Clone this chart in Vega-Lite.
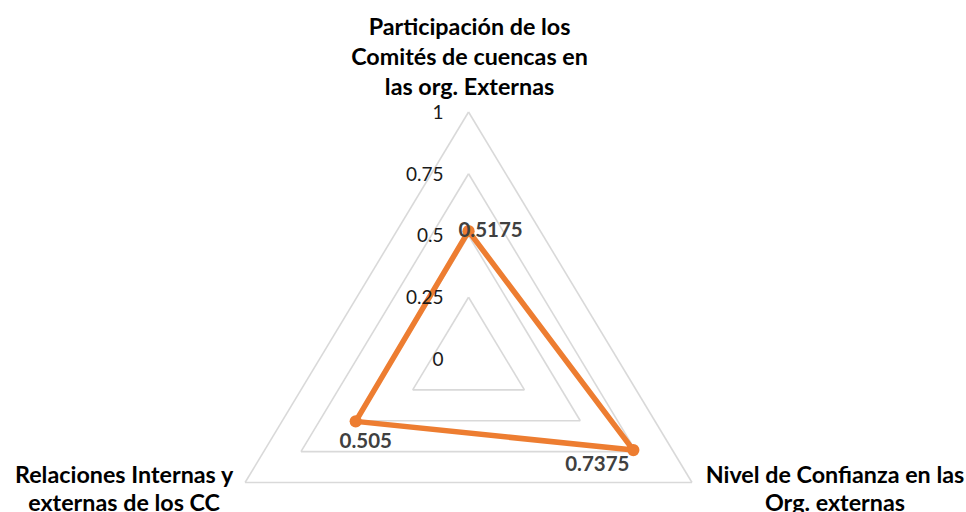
{
  "$schema": "https://vega.github.io/schema/vega-lite/v6.json",
  "width": 966,
  "height": 512,
  "autosize": "none",
  "padding": 0,
  "background": "white",
  "config": {"view": {"stroke": null}},
  "datasets": {
    "series": [
      {"axis": "Participación de los|Comités de cuencas en|las org. Externas", "idx": 0, "value": 0.5175},
      {"axis": "Nivel de Confianza en las|Org. externas", "idx": 1, "value": 0.7375},
      {"axis": "Relaciones Internas y|externas de los CC", "idx": 2, "value": 0.505}
    ],
    "rings": [
      {"level": 0.25, "idx": 0}, {"level": 0.25, "idx": 1}, {"level": 0.25, "idx": 2},
      {"level": 0.5, "idx": 0}, {"level": 0.5, "idx": 1}, {"level": 0.5, "idx": 2},
      {"level": 0.75, "idx": 0}, {"level": 0.75, "idx": 1}, {"level": 0.75, "idx": 2},
      {"level": 1, "idx": 0}, {"level": 1, "idx": 1}, {"level": 1, "idx": 2}
    ],
    "ticks": [
      {"level": 0, "label": "0"},
      {"level": 0.25, "label": "0.25"},
      {"level": 0.5, "label": "0.5"},
      {"level": 0.75, "label": "0.75"},
      {"level": 1, "label": "1"}
    ]
  },
  "encoding": {
    "x": {"field": "x", "type": "quantitative", "axis": null, "scale": {"domain": [-1.816, 1.928], "nice": false, "zero": false}},
    "y": {"field": "y", "type": "quantitative", "axis": null, "scale": {"domain": [-0.6194, 1.4534], "nice": false, "zero": false}}
  },
  "layer": [
    {
      "data": {"name": "rings"},
      "transform": [
        {"calculate": "datum.level*sin(datum.idx*2*PI/3)", "as": "x"},
        {"calculate": "datum.level*cos(datum.idx*2*PI/3)", "as": "y"},
        {"calculate": "datum.level*sin((datum.idx+1)*2*PI/3)", "as": "x2"},
        {"calculate": "datum.level*cos((datum.idx+1)*2*PI/3)", "as": "y2"}
      ],
      "mark": {"type": "rule", "color": "#D9D9D9", "strokeWidth": 1.6},
      "encoding": {"x2": {"field": "x2"}, "y2": {"field": "y2"}}
    },
    {
      "data": {"name": "series"},
      "transform": [
        {"calculate": "datum.value*sin(datum.idx*2*PI/3)", "as": "x"},
        {"calculate": "datum.value*cos(datum.idx*2*PI/3)", "as": "y"}
      ],
      "mark": {"type": "line", "color": "#ED7D31", "strokeWidth": 5.5, "interpolate": "linear-closed", "strokeJoin": "round"},
      "encoding": {"order": {"field": "idx", "type": "quantitative"}}
    },
    {
      "data": {"name": "ticks"},
      "transform": [
        {"calculate": "0", "as": "x"},
        {"calculate": "datum.level", "as": "y"}
      ],
      "mark": {"type": "text", "align": "right", "baseline": "middle", "dx": -25, "dy": 1, "font": "Lato", "fontSize": 19, "color": "#1a1a1a"},
      "encoding": {"text": {"field": "label", "type": "nominal"}}
    },
    {
      "data": {"name": "series"},
      "transform": [
        {"calculate": "datum.value*sin(datum.idx*2*PI/3)", "as": "x"},
        {"calculate": "datum.value*cos(datum.idx*2*PI/3)", "as": "y"}
      ],
      "mark": {"type": "point", "shape": "circle", "filled": true, "size": 150, "color": "#ED7D31", "opacity": 1}
    },
    {
      "data": {"name": "series"},
      "transform": [
        {"filter": "datum.idx == 0"},
        {"calculate": "datum.value*sin(datum.idx*2*PI/3)", "as": "x"},
        {"calculate": "datum.value*cos(datum.idx*2*PI/3)", "as": "y"},
        {"calculate": "format(datum.value, '')", "as": "vtxt"}
      ],
      "mark": {"type": "text", "align": "center", "baseline": "middle", "dx": 22, "dy": 0, "font": "Lato", "fontWeight": 700, "fontSize": 20.5, "color": "#404040"},
      "encoding": {"text": {"field": "vtxt", "type": "nominal"}}
    },
    {
      "data": {"name": "series"},
      "transform": [
        {"filter": "datum.idx == 1"},
        {"calculate": "datum.value*sin(datum.idx*2*PI/3)", "as": "x"},
        {"calculate": "datum.value*cos(datum.idx*2*PI/3)", "as": "y"},
        {"calculate": "format(datum.value, '')", "as": "vtxt"}
      ],
      "mark": {"type": "text", "align": "center", "baseline": "middle", "dx": -36, "dy": 15, "font": "Lato", "fontWeight": 700, "fontSize": 20.5, "color": "#404040"},
      "encoding": {"text": {"field": "vtxt", "type": "nominal"}}
    },
    {
      "data": {"name": "series"},
      "transform": [
        {"filter": "datum.idx == 2"},
        {"calculate": "datum.value*sin(datum.idx*2*PI/3)", "as": "x"},
        {"calculate": "datum.value*cos(datum.idx*2*PI/3)", "as": "y"},
        {"calculate": "format(datum.value, '')", "as": "vtxt"}
      ],
      "mark": {"type": "text", "align": "center", "baseline": "middle", "dx": 10, "dy": 21, "font": "Lato", "fontWeight": 700, "fontSize": 20.5, "color": "#404040"},
      "encoding": {"text": {"field": "vtxt", "type": "nominal"}}
    },
    {
      "data": {"name": "series"},
      "transform": [
        {"filter": "datum.idx == 0"},
        {"calculate": "sin(datum.idx*2*PI/3)", "as": "x"},
        {"calculate": "cos(datum.idx*2*PI/3)", "as": "y"},
        {"calculate": "split(datum.axis, '|')", "as": "lines"}
      ],
      "mark": {"type": "text", "align": "center", "baseline": "alphabetic", "dx": 1, "dy": -77, "lineHeight": 30, "font": "Lato", "fontWeight": 700, "fontSize": 23.3, "color": "#000000"},
      "encoding": {"text": {"field": "lines"}}
    },
    {
      "data": {"name": "series"},
      "transform": [
        {"filter": "datum.idx == 1"},
        {"calculate": "sin(datum.idx*2*PI/3)", "as": "x"},
        {"calculate": "cos(datum.idx*2*PI/3)", "as": "y"},
        {"calculate": "split(datum.axis, '|')", "as": "lines"}
      ],
      "mark": {"type": "text", "align": "center", "baseline": "alphabetic", "dx": 143, "dy": 0, "lineHeight": 28, "font": "Lato", "fontWeight": 700, "fontSize": 23.3, "color": "#000000"},
      "encoding": {"text": {"field": "lines"}}
    },
    {
      "data": {"name": "series"},
      "transform": [
        {"filter": "datum.idx == 2"},
        {"calculate": "sin(datum.idx*2*PI/3)", "as": "x"},
        {"calculate": "cos(datum.idx*2*PI/3)", "as": "y"},
        {"calculate": "split(datum.axis, '|')", "as": "lines"}
      ],
      "mark": {"type": "text", "align": "center", "baseline": "alphabetic", "dx": -121, "dy": 0, "lineHeight": 28, "font": "Lato", "fontWeight": 700, "fontSize": 23.3, "color": "#000000"},
      "encoding": {"text": {"field": "lines"}}
    }
  ]
}
